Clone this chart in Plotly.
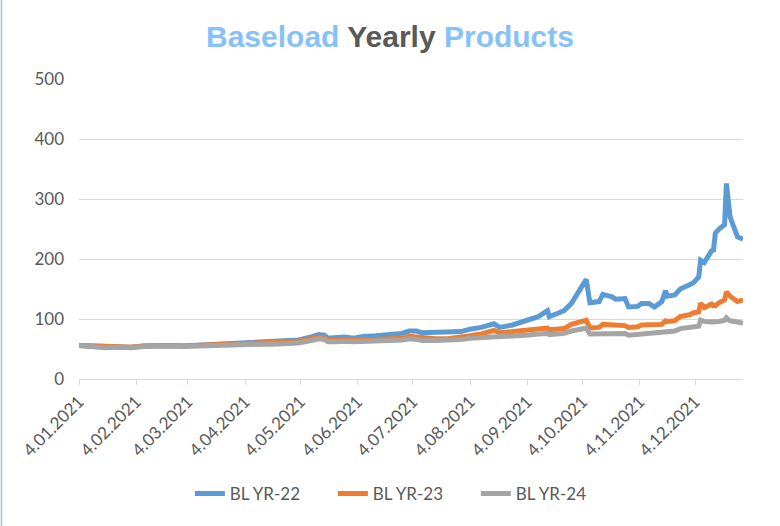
import plotly.graph_objects as go

dates = ["2021-01-04","2021-01-11","2021-01-18","2021-01-25","2021-02-01","2021-02-08","2021-02-15",
         "2021-02-22","2021-03-01","2021-03-08","2021-03-15","2021-03-22","2021-03-29","2021-04-05",
         "2021-04-12","2021-04-19","2021-04-26","2021-05-03","2021-05-10","2021-05-14","2021-05-17",
         "2021-05-19","2021-05-24","2021-05-28","2021-06-02","2021-06-07","2021-06-14","2021-06-21",
         "2021-06-28","2021-07-02","2021-07-06","2021-07-09","2021-07-16","2021-07-23","2021-07-30",
         "2021-08-04","2021-08-10","2021-08-17","2021-08-20","2021-08-27","2021-09-03","2021-09-10",
         "2021-09-15","2021-09-16","2021-09-21","2021-09-24","2021-09-28","2021-10-01","2021-10-06",
         "2021-10-08","2021-10-13","2021-10-15","2021-10-20","2021-10-22","2021-10-27","2021-10-29",
         "2021-11-03","2021-11-05","2021-11-09","2021-11-12","2021-11-16","2021-11-18","2021-11-19",
         "2021-11-23","2021-11-26","2021-12-01","2021-12-03","2021-12-06","2021-12-07","2021-12-09",
         "2021-12-13","2021-12-14","2021-12-15","2021-12-17","2021-12-20","2021-12-21","2021-12-22",
         "2021-12-23","2021-12-27","2021-12-30"]

bl_yr22 = [56,55,53,54,53,55,56,56,55,56,57,58,58,59,60,62,63,65,70,74,73,68,69,70,68,71,72,74,
           76,80,80,77,77,77,79,83,86,92,86,90,97,104,114,104,110,114,126,142,166,127,129,141,137,
           133,134,120,121,126,126,120,129,147,138,140,150,157,160,170,198,194,214,215,243,250,257,
           326,287,270,237,233]
bl_yr23 = [56,55,53,54,53,55,56,56,55,56,57,58,58,59,60,61,62,63,67,70,69,64,65,65,64,66,66,67,
           68,71,70,68,67,67,69,72,75,81,77,79,82,84,85,82,82,84,91,93,98,85,86,91,90,88,89,86,87,
           90,90,90,91,97,96,97,104,107,110,112,126,119,125,122,122,127,132,145,140,138,129,132]
bl_yr24 = [56,54,52,53,52,54,55,55,54,55,56,57,57,57,58,58,59,60,64,67,66,62,62,63,62,63,63,64,
           65,67,66,64,64,64,66,68,69,70,69,71,73,75,76,74,75,76,80,82,85,75,75,77,77,76,76,73,74,
           76,76,76,78,79,79,80,84,86,87,88,98,96,95,95,95,96,98,102,99,97,95,93]

series_names = ["BL YR-22", "BL YR-23", "BL YR-24"]
series_colors = ["#5B9BD5", "#ED7D31", "#A5A5A5"]

tick_dates = ["2021-%02d-04" % m for m in range(1, 13)]
tick_labels = ["4.%02d.2021" % m for m in range(1, 13)]

fig = go.Figure()
for name, vals, col in zip(series_names, [bl_yr22, bl_yr23, bl_yr24], series_colors):
    fig.add_trace(go.Scatter(x=dates, y=vals, name=name, mode="lines",
                             line=dict(color=col, width=5)))

text_col = "#595959"
title_blue = "#86C2F8"
fig.update_layout(
    width=780, height=526,
    paper_bgcolor="white", plot_bgcolor="white",
    margin=dict(l=79, r=37, t=79, b=147, autoexpand=False),
    font=dict(family="Lato", size=17, color=text_col),
    title=dict(
        text=("<b><span style='color:%s'>Baseload</span> <span style='color:%s'>Yearly</span> "
              "<span style='color:%s'>Products</span></b>") % (title_blue, text_col, title_blue),
        font=dict(family="Liberation Sans", size=30),
        x=0.5, xref="container", xanchor="center",
        y=1 - 36 / 526, yref="container", yanchor="middle"),
    xaxis=dict(
        type="date", range=["2021-01-04", "2021-12-30"],
        tickmode="array", tickvals=tick_dates, ticktext=tick_labels,
        tickangle=-45, showgrid=False, automargin=False,
        showline=True, linecolor="#D9D9D9", linewidth=1,
        ticks="outside", ticklen=5, tickcolor="#D9D9D9",
        tickfont=dict(family="Lato", size=17, color=text_col),
        zeroline=False),
    yaxis=dict(
        range=[0, 500], dtick=100, showgrid=True, gridcolor="#D9D9D9", gridwidth=1,
        zeroline=False, showline=False, ticks="", ticklabelstandoff=14, automargin=False,
        tickfont=dict(family="Lato", size=17, color=text_col)),
    legend=dict(orientation="h", x=0.49, xanchor="center", y=-0.383, yanchor="middle",
                entrywidth=98, entrywidthmode="pixels",
                font=dict(family="Lato", size=17, color=text_col), traceorder="normal"),
    shapes=[dict(type="line", xref="paper", yref="paper",
                 x0=(1.5 - 79) / 664, x1=(1.5 - 79) / 664,
                 y0=(379 - 526) / 300, y1=(379 - 0) / 300,
                 line=dict(color="#9DC3E6", width=1.5))],
)

fig.write_html("out.html", post_script="document.body.style.margin='0';",
               config={"displayModeBar": False})
